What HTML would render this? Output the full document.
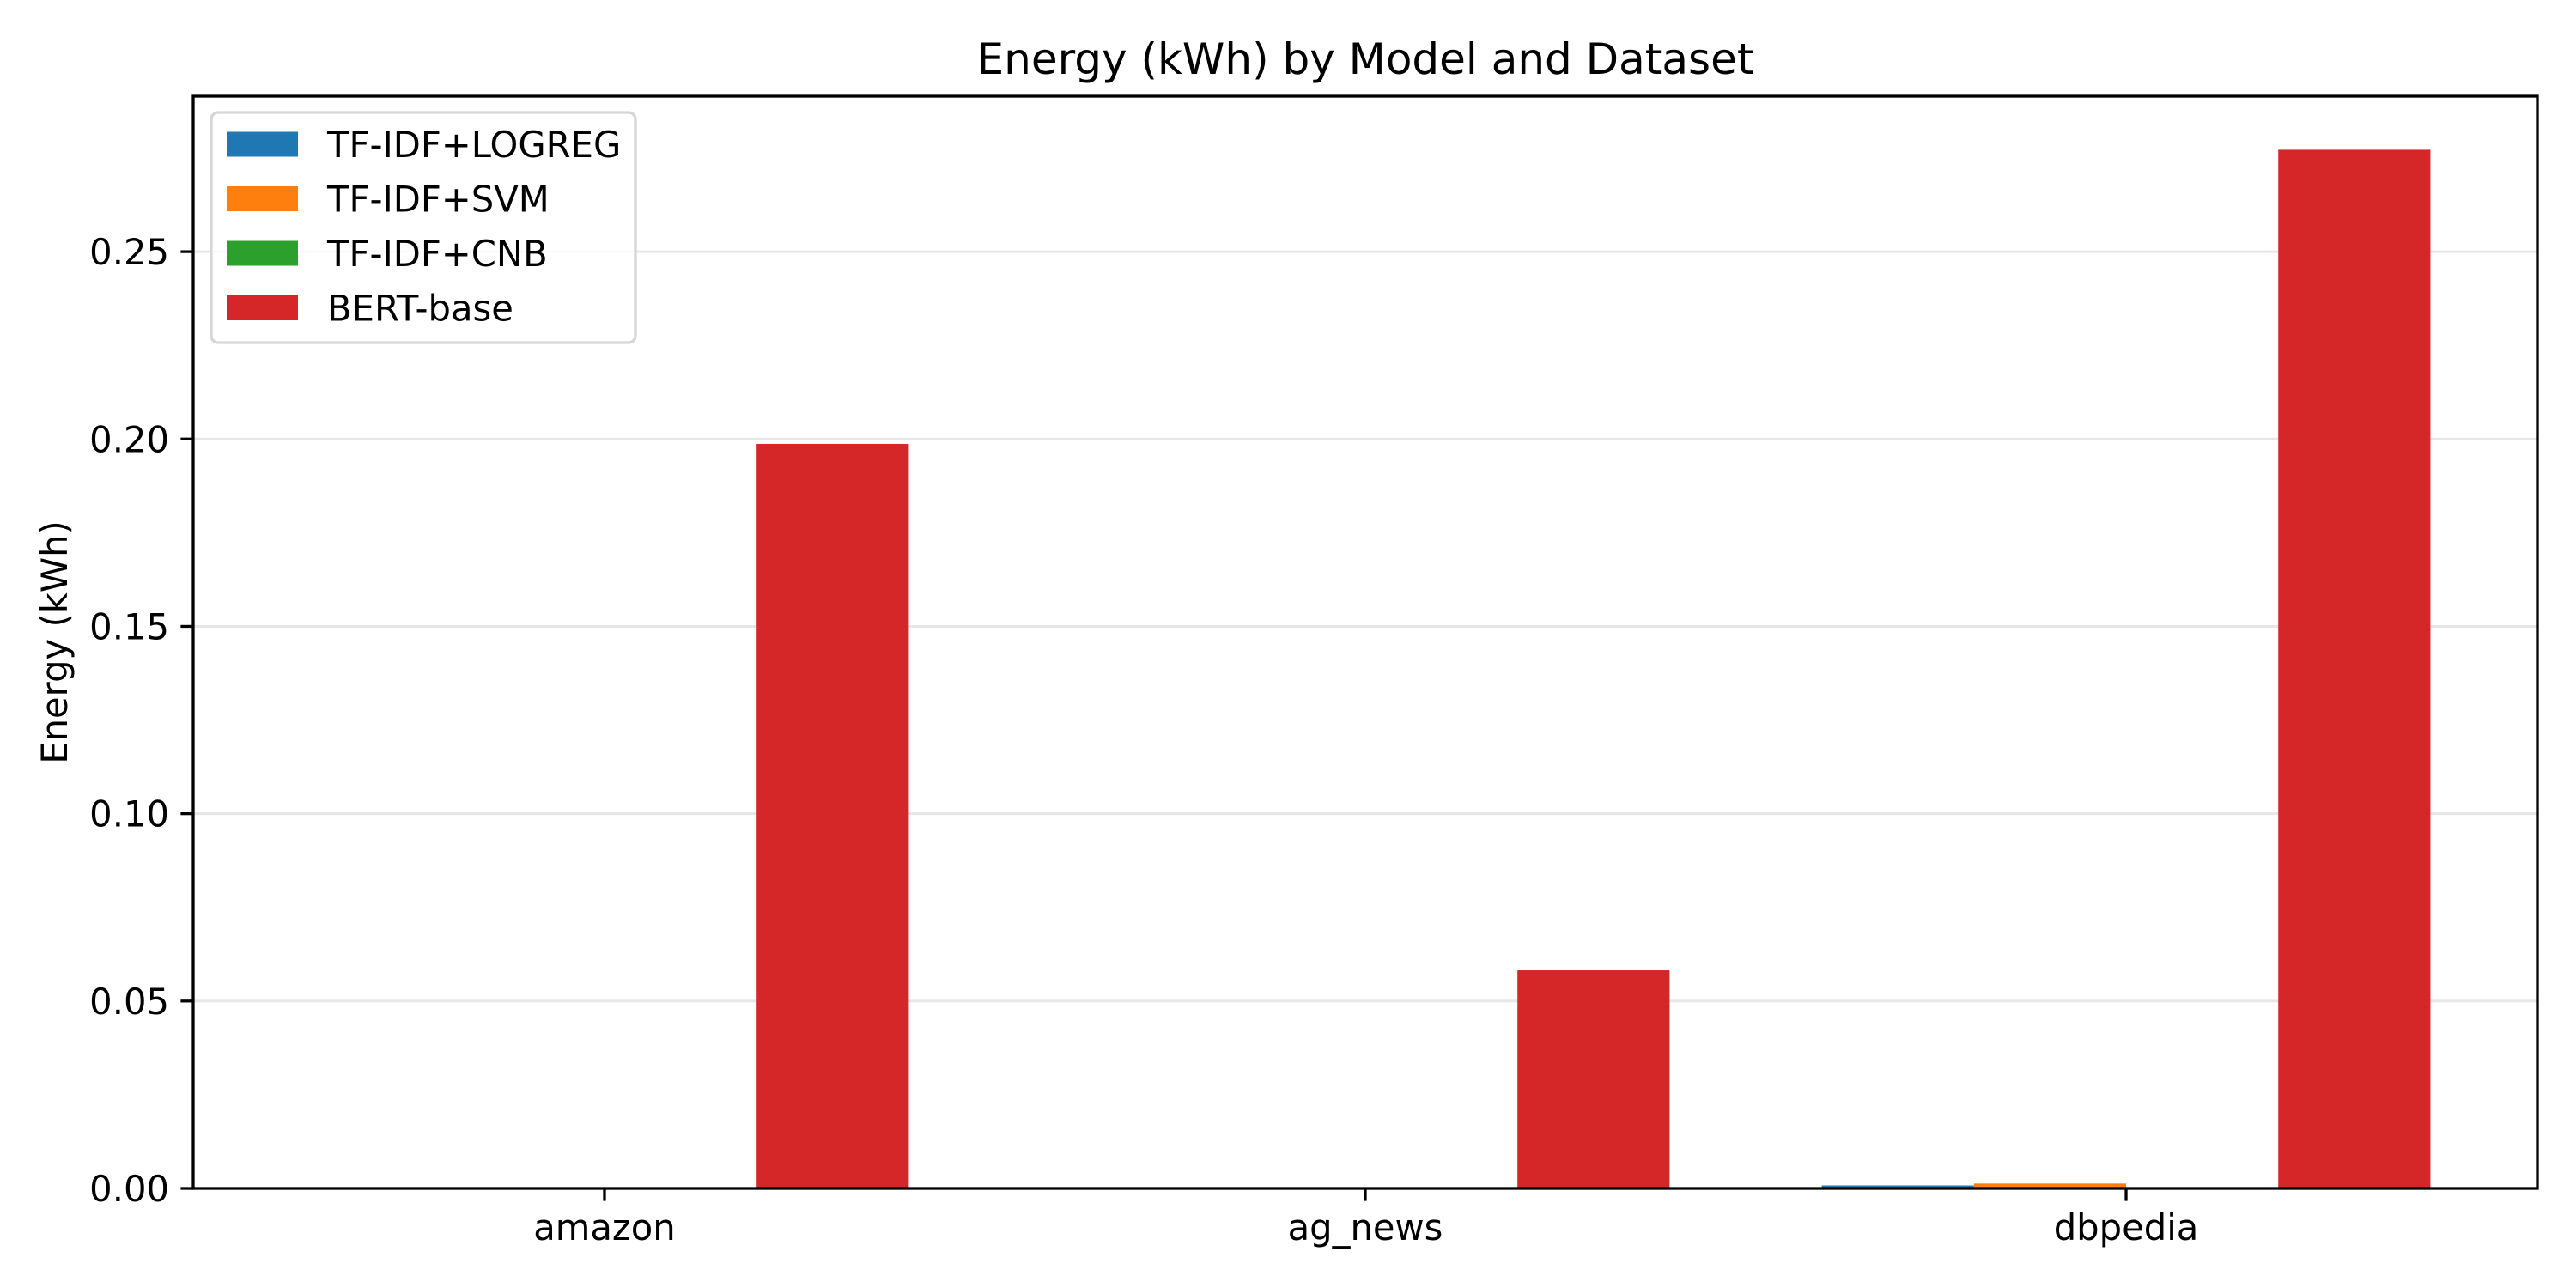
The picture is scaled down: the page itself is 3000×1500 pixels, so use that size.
<!DOCTYPE html>
<html><head><meta charset="utf-8"><style>html,body{margin:0;padding:0;background:#fff}svg{display:block}text{font-family:"DejaVu Sans","Liberation Sans",sans-serif;fill:#000}</style></head>
<body>
<svg id="chart" width="3000" height="1500" xmlns="http://www.w3.org/2000/svg">
<rect width="3000" height="1500" fill="#fff"/>
<text x="1590" y="86" font-size="50" text-anchor="middle">Energy (kWh) by Model and Dataset</text>
<text transform="translate(78,748) rotate(-90)" font-size="41.7" text-anchor="middle">Energy (kWh)</text>
<g id="grid"></g><g id="bars"></g><g id="axes"></g><g id="legend"></g>
</svg>
<script>
const categories = ["amazon", "ag_news", "dbpedia"];
const seriesNames = ["TF-IDF+LOGREG", "TF-IDF+SVM", "TF-IDF+CNB", "BERT-base"];
const seriesColors = ["#1f77b4", "#ff7f0e", "#2ca02c", "#d62728"];
const logregValues = [0.0001, 0.0001, 0.0008];
const svmValues = [0.0003, 0.0001, 0.0013];
const cnbValues = [0.00005, 0.00005, 0.0001];
const bertValues = [0.1987, 0.0582, 0.2772];
const yTicks = [0, 0.05, 0.10, 0.15, 0.20, 0.25];
const yTickLabels = ["0.00", "0.05", "0.10", "0.15", "0.20", "0.25"];

const NS = "http://www.w3.org/2000/svg";
const L = 225, R = 2955, T = 112, B = 1384;
const xMin = -0.5406, xMax = 2.5406, yMax = 0.2915;
const xs = v => L + (v - xMin) / (xMax - xMin) * (R - L);
const ys = v => B - v / yMax * (B - T);
function mk(tag, attrs, parent) { const e = document.createElementNS(NS, tag); for (const k in attrs) e.setAttribute(k, attrs[k]); parent.appendChild(e); return e; }
const grid = document.getElementById('grid'), bars = document.getElementById('bars'), axes = document.getElementById('axes'), legend = document.getElementById('legend');
yTicks.forEach((t, i) => {
  const y = ys(t);
  const g = mk('line', {x1: L, x2: R, y1: y, y2: y, stroke: '#e6e6e6', 'stroke-width': 3}, grid);
  
  
  const tk = mk('line', {x1: L - 14.6, x2: L, y1: y, y2: y, stroke: '#000', 'stroke-width': 3.3}, axes);
  
  
  const tx = mk('text', {x: L - 28, y: y + 15, 'font-size': 41.7, 'text-anchor': 'end'}, axes);
  tx.textContent = yTickLabels[i];
  
  
});
const allSeries = [logregValues, svmValues, cnbValues, bertValues];
const w = 0.2;
allSeries.forEach((vals, s) => {
  vals.forEach((v, c) => {
    const cx = c + (s - 1.5) * w;
    const x0 = xs(cx - w / 2), x1 = xs(cx + w / 2);
    const r = mk('rect', {x: x0, y: ys(v), width: x1 - x0, height: ys(0) - ys(v), fill: seriesColors[s]}, bars);
    
    
  });
});
categories.forEach((c, i) => {
  const x = xs(i);
  const tk = mk('line', {x1: x, x2: x, y1: B, y2: B + 14.6, stroke: '#000', 'stroke-width': 3.3}, axes);
  
  
  const tx = mk('text', {x: x, y: B + 60, 'font-size': 41.7, 'text-anchor': 'middle'}, axes);
  tx.textContent = c;
  
  
});
const frame = mk('rect', {x: L, y: T, width: R - L, height: B - T, fill: 'none', stroke: '#000', 'stroke-width': 3.3}, axes);


const lb = mk('rect', {x: 246, y: 131, width: 494, height: 268, rx: 8, fill: '#fff', 'fill-opacity': 0.8, stroke: '#d6d6d6', 'stroke-width': 3.3}, legend);


seriesNames.forEach((n, i) => {
  const y = 168 + i * 63.5;
  const p = mk('rect', {x: 264, y: y - 14.5, width: 83, height: 29, fill: seriesColors[i]}, legend);
  
  
  const t = mk('text', {x: 381, y: y + 15, 'font-size': 41.7}, legend);
  t.textContent = n;
  
  
});
</script>
</body></html>
